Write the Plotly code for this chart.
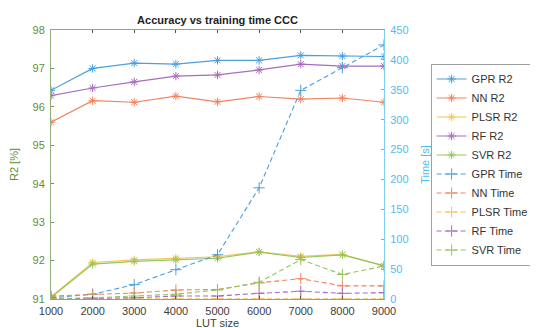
import plotly.graph_objects as go

lut_size = [1000, 2000, 3000, 4000, 5000, 6000, 7000, 8000, 9000]

gpr_r2 = [96.43, 97.00, 97.14, 97.11, 97.21, 97.21, 97.34, 97.32, 97.31]
nn_r2 = [95.60, 96.16, 96.12, 96.28, 96.13, 96.27, 96.20, 96.23, 96.12]
plsr_r2 = [91.06, 91.95, 92.02, 92.06, 92.10, 92.23, 92.11, 92.16, 91.87]
rf_r2 = [96.29, 96.49, 96.65, 96.80, 96.83, 96.96, 97.11, 97.06, 97.06]
svr_r2 = [91.04, 91.91, 91.98, 92.02, 92.06, 92.22, 92.08, 92.15, 91.86]

gpr_time = [2, 8, 24, 49, 74, 186, 349, 387, 425]
nn_time = [5, 8, 10, 15, 16, 27, 34, 22, 22]
plsr_time = [0.3, 0.3, 0.3, 0.3, 0.3, 0.3, 0.3, 0.3, 0.3]
rf_time = [0.5, 1, 2, 5, 5, 9.5, 13, 9.5, 10.5]
svr_time = [0.5, 2, 5, 8, 15, 28, 66, 41, 55]

names = ["GPR", "NN", "PLSR", "RF", "SVR"]
colors = ["#4a9fdc", "#ef8460", "#f6c456", "#a86cbc", "#94c55e"]
r2_series = [gpr_r2, nn_r2, plsr_r2, rf_r2, svr_r2]
time_series = [gpr_time, nn_time, plsr_time, rf_time, svr_time]

fig = go.Figure()
for name, col, vals in zip(names, colors, r2_series):
    fig.add_trace(go.Scatter(
        x=lut_size, y=vals, name=f"{name} R2", mode="lines+markers",
        line=dict(color=col, width=1.2),
        marker=dict(symbol="asterisk-open", size=7, color=col, line=dict(color=col, width=1)),
        yaxis="y"))
for name, col, vals in zip(names, colors, time_series):
    fig.add_trace(go.Scatter(
        x=lut_size, y=vals, name=f"{name} Time", mode="lines+markers",
        line=dict(color=col, width=1.1, dash="5px,3px"),
        marker=dict(symbol="cross-thin-open", size=8, color=col, line=dict(color=col, width=1)),
        yaxis="y2"))

font = "Liberation Sans, Arial, sans-serif"
fig.update_layout(
    width=538, height=328,
    margin=dict(l=43, r=140, t=22, b=37),
    paper_bgcolor="white", plot_bgcolor="white",
    font=dict(family=font, size=11, color="#404040"),
    title=dict(text="<b>Accuracy vs training time CCC</b>", x=0.5, xref="paper",
               y=1 - 12 / 328, yanchor="middle", font=dict(size=11, color="#222222")),
    xaxis=dict(range=[1000, 9000], tickvals=lut_size, ticks="inside", ticklen=3,
               tickcolor="#555555", showline=True, linecolor="#9a9a9a", linewidth=1,
               mirror="ticks", showgrid=False, zeroline=False, ticklabelstandoff=2,
               automargin=False,
               title=dict(text="LUT size", standoff=0, font=dict(size=11, color="#404040")),
               tickfont=dict(size=11, color="#404040")),
    yaxis=dict(range=[91, 98], dtick=1, ticks="inside", ticklen=3,
               tickcolor="#6b9a3f", showline=True, linecolor="#8fb07a", linewidth=1,
               showgrid=False, zeroline=False, ticklabelstandoff=3, automargin=False,
               title=dict(text="R2 [%]", standoff=12, font=dict(size=11, color="#5f8f35")),
               tickfont=dict(size=11, color="#5f8f35")),
    yaxis2=dict(range=[0, 450], dtick=50, overlaying="y", side="right", ticks="inside",
                ticklen=3, tickcolor="#4dbeee", showline=True, linecolor="#7fd0f2",
                linewidth=1, showgrid=False, zeroline=False, ticklabelstandoff=3,
                automargin=False,
                title=dict(text="Time [s]", standoff=13, font=dict(size=11, color="#4dbeee")),
                tickfont=dict(size=11, color="#4dbeee")),
    legend=dict(x=1.14, xanchor="left", y=0.5, yanchor="middle",
                bordercolor="#a0a0a0", borderwidth=1, bgcolor="white",
                font=dict(size=11, color="#333333"), itemwidth=30,
                tracegroupgap=0),
    showlegend=True,
)

fig.write_html("out.html")
